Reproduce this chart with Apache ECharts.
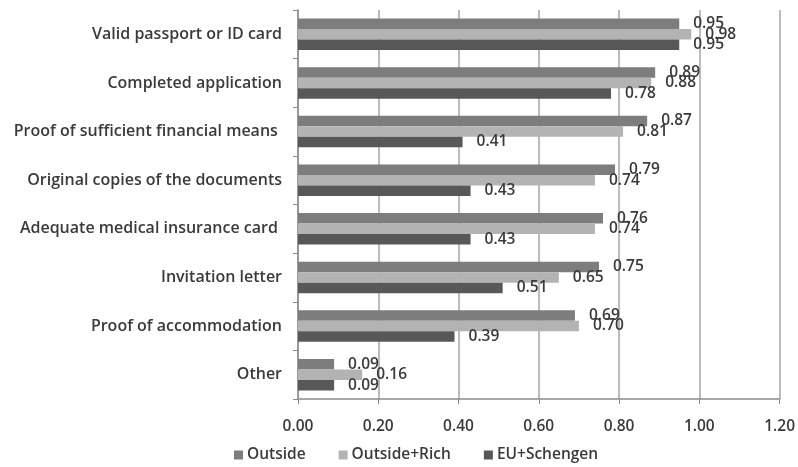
<!DOCTYPE html>
<html>
<head>
<meta charset="utf-8">
<script src="https://cdn.jsdelivr.net/npm/echarts@6/dist/echarts.min.js"></script>
<style>
  html, body { margin: 0; padding: 0; background: #fff; }
  #main { width: 798px; height: 467px; }
</style>
</head>
<body>
<div id="main"></div>
<script>
// 数据
var categories = [
    'Valid passport or ID card',
    'Completed application',
    'Proof of sufficient financial means ',
    'Original copies of the documents',
    'Adequate medical insurance card ',
    'Invitation letter',
    'Proof of accommodation',
    'Other'
];
var outside = [0.95, 0.89, 0.87, 0.79, 0.76, 0.75, 0.69, 0.09];
var outsideRich = [0.98, 0.88, 0.81, 0.74, 0.74, 0.65, 0.70, 0.16];
var euSchengen = [0.95, 0.78, 0.41, 0.43, 0.43, 0.51, 0.39, 0.09];
var xTicks = [0, 0.2, 0.4, 0.6, 0.8, 1.0, 1.2];

var seriesNames = ['Outside', 'Outside+Rich', 'EU+Schengen'];
var seriesColors = ['#7d7d7d', '#b3b3b3', '#585858'];
var seriesData = [outside, outsideRich, euSchengen];

var font = '"Open Sans", "Liberation Sans", sans-serif';
var textColor = '#3a3a3a';

function bar(i) {
    return {
        name: seriesNames[i],
        type: 'bar',
        data: seriesData[i],
        barWidth: 10.5,
        barGap: '0%',
        itemStyle: { color: seriesColors[i] },
        label: {
            show: true,
            position: 'right',
            distance: 14,
            color: textColor,
            fontFamily: font,
            fontSize: 15.5,
            fontWeight: 600,
            formatter: function (p) { return p.value.toFixed(2); }
        }
    };
}

var myChart = echarts.init(document.getElementById('main'), null, { renderer: 'canvas' });

var option = {
    animation: false,
    backgroundColor: '#fff',
    textStyle: { fontFamily: font },
    grid: { left: 298, right: 16, top: 10, bottom: 68 },
    legend: {
        data: seriesNames,
        bottom: -1,
        left: 229,
        icon: 'rect',
        itemWidth: 9,
        itemHeight: 9,
        itemGap: 33,
        textStyle: { color: textColor, fontSize: 15.5, fontWeight: 600, fontFamily: font, padding: [0, 0, 0, -1] }
    },
    xAxis: {
        type: 'value',
        min: xTicks[0],
        max: xTicks[xTicks.length - 1],
        interval: 0.2,
        axisLine: { show: true, lineStyle: { color: '#8c8c8c', width: 1.5 } },
        axisTick: { show: true, length: 5, lineStyle: { color: '#8c8c8c' } },
        splitLine: { show: true, lineStyle: { color: '#a6a6a6', width: 1.5 } },
        axisLabel: {
            color: textColor,
            fontSize: 15.5,
            fontWeight: 600,
            margin: 20,
            formatter: function (v) { return v.toFixed(2); }
        }
    },
    yAxis: {
        type: 'category',
        data: categories,
        inverse: true,
        axisLine: { show: true, lineStyle: { color: '#8c8c8c', width: 1.5 } },
        axisTick: { show: true, length: 5, lineStyle: { color: '#8c8c8c' } },
        axisLabel: { color: textColor, fontSize: 16, fontWeight: 600, margin: 16 }
    },
    series: [bar(0), bar(1), bar(2)]
};

myChart.setOption(option);
</script>
</body>
</html>
